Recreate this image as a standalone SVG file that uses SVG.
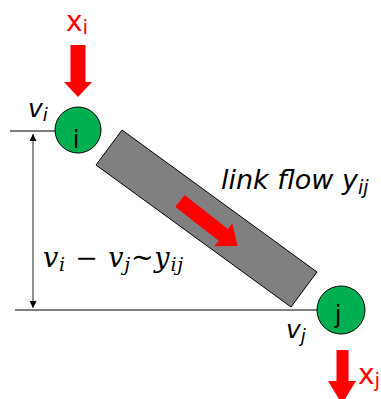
<svg xmlns="http://www.w3.org/2000/svg" width="381" height="399" viewBox="0 0 381 399">
<style>
.node{fill:#00B050;stroke:#000;stroke-width:1}
.nlab{font-family:"DejaVu Sans",Verdana,sans-serif;font-size:24px;fill:#000}
.red{fill:#FF0000}
.xlab{font-family:"DejaVu Sans",Verdana,sans-serif;font-size:28px;fill:#FF0000}
.it{font-family:"DejaVu Sans",Verdana,sans-serif;font-style:italic;fill:#000}
.math{font-family:"DejaVu Serif","Liberation Serif",serif;font-style:italic;fill:#000;font-size:27px;letter-spacing:0.8px}
.line{stroke:#555;stroke-width:1.3;fill:none}
</style>
<defs>
<marker id="ah" viewBox="0 0 10 10" refX="10" refY="5" markerWidth="7" markerHeight="7" markerUnits="userSpaceOnUse" orient="auto-start-reverse">
<path d="M0,0 L10,5 L0,10 Z" fill="#000"/>
</marker>
</defs>
<g id="connectors">
<line class="line" x1="10" y1="131" x2="55" y2="131"/>
<line class="line" x1="15" y1="310" x2="317" y2="310"/>
<line class="line" x1="33" y1="134" x2="33" y2="308" marker-start="url(#ah)" marker-end="url(#ah)"/>
</g>
<g id="link">
<polygon points="122,130 317,272 291,307 96,165" fill="#808080" stroke="#000" stroke-width="1"/>
<path class="red" transform="translate(180,201) rotate(38)" d="M0,-7.5 L55,-7.5 L55,-14.5 L73,0 L55,14.5 L55,7.5 L0,7.5 Z"/>
</g>
<g id="node-i">
<circle class="node" cx="78" cy="130" r="23"/>
<text class="nlab" x="76" y="148" text-anchor="middle">i</text>
</g>
<g id="node-j">
<circle class="node" cx="341" cy="310" r="24"/>
<text class="nlab" x="338" y="323" text-anchor="middle">j</text>
</g>
<g id="inflow">
<path class="red" d="M70.5,45 L85.5,45 L85.5,82 L92,82 L78,97 L64,82 L70.5,82 Z"/>
<text class="xlab" x="66" y="31">x<tspan font-size="20" dy="3">i</tspan></text>
</g>
<g id="outflow">
<path class="red" d="M336.5,350 L348.5,350 L348.5,381 L356,381 L342,404 L328,381 L336.5,381 Z"/>
<text class="xlab" x="358" y="384">x<tspan font-size="20" dy="3">j</tspan></text>
</g>
<g id="labels">
<text class="it" x="28" y="117" font-size="25">v<tspan font-size="18" dy="4">i</tspan></text>
<text class="it" x="286" y="338" font-size="25">v<tspan font-size="18" dy="4">j</tspan></text>
<text class="it" x="221" y="189" font-size="27">link flow y<tspan font-size="19" dy="5">ij</tspan></text>
<text class="math" x="43" y="267">v<tspan font-size="19" dy="4">i</tspan><tspan dy="-4"> − v</tspan><tspan font-size="19" dy="4">j</tspan><tspan dy="-4">~y</tspan><tspan font-size="19" dy="4">ij</tspan></text>
</g>
</svg>
